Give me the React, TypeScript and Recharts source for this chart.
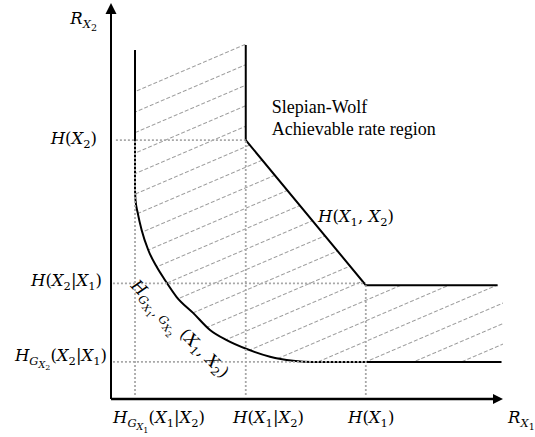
import { ComposedChart, XAxis, YAxis, Line, Area, ReferenceLine, ReferenceDot } from 'recharts';

// rate units (x: R_X1, y: R_X2)
const xMarks = [0.98, 5.5, 10.4]; // H_GX1(X1|X2), H(X1|X2), H(X1)
const yMarks = [1.5, 4.67, 10.46]; // H_GX2(X2|X1), H(X2|X1), H(X2)

// Slepian-Wolf boundary
const outerBoundary = [
    { x: 5.5, y: 14.3 },
    { x: 5.5, y: 10.46 },
    { x: 10.4, y: 4.6 },
    { x: 15.78, y: 4.6 },
];

// graph-entropy boundary
const innerEdge = [
    { x: 0.98, y: 14.1 },
    { x: 0.98, y: 8.44 },
];
const innerCurve = [
    { x: 0.98, y: 8.44 },
    { x: 1.0, y: 8.04 },
    { x: 1.09, y: 7.52 },
    { x: 1.25, y: 6.83 },
    { x: 1.52, y: 6.02 },
    { x: 1.87, y: 5.33 },
    { x: 2.2, y: 4.81 },
    { x: 2.68, y: 4.12 },
    { x: 3.36, y: 3.47 },
    { x: 4.04, y: 2.79 },
    { x: 4.72, y: 2.38 },
    { x: 5.54, y: 2.02 },
    { x: 6.49, y: 1.71 },
    { x: 7.43, y: 1.55 },
    { x: 8.2, y: 1.5 },
    { x: 15.94, y: 1.5 },
];

// hatched region between the two boundaries
const hatchRegion = [
    { x: 0.98, low: 8.44, high: 12.5 },
    { x: 1.0, low: 8.04, high: 12.51 },
    { x: 1.09, low: 7.52, high: 12.55 },
    { x: 1.25, low: 6.83, high: 12.62 },
    { x: 1.52, low: 6.02, high: 12.73 },
    { x: 1.87, low: 5.33, high: 12.88 },
    { x: 2.2, low: 4.81, high: 13.02 },
    { x: 2.68, low: 4.12, high: 13.23 },
    { x: 3.36, low: 3.47, high: 13.51 },
    { x: 4.04, low: 2.79, high: 13.8 },
    { x: 4.72, low: 2.38, high: 14.09 },
    { x: 5.5, low: 2.03, high: 14.42 },
    { x: 5.5, low: 2.03, high: 10.46 },
    { x: 6.49, low: 1.71, high: 9.28 },
    { x: 7.43, low: 1.55, high: 8.15 },
    { x: 8.2, low: 1.5, high: 7.23 },
    { x: 10.4, low: 1.5, high: 4.6 },
    { x: 16, low: 1.5, high: 4.6 },
];

type Run = [string, number]; // text, subscript level

const xTickText: Run[][] = [
    [['H', 0], ['G', 1], ['X', 2], ['1', 3], ['(X', 0], ['1', 1], ['|X', 0], ['2', 1], [')', 0]],
    [['H(X', 0], ['1', 1], ['|X', 0], ['2', 1], [')', 0]],
    [['H(X', 0], ['1', 1], [')', 0]],
];
const yTickText: Run[][] = [
    [['H', 0], ['G', 1], ['X', 2], ['2', 3], ['(X', 0], ['2', 1], ['|X', 0], ['1', 1], [')', 0]],
    [['H(X', 0], ['2', 1], ['|X', 0], ['1', 1], [')', 0]],
    [['H(X', 0], ['2', 1], [')', 0]],
];
const xTitle: Run[] = [['R', 0], ['X', 1], ['1', 2]];
const yTitle: Run[] = [['R', 0], ['X', 1], ['2', 2]];
const jointText: Run[] = [['H(X', 0], ['1', 1], [', X', 0], ['2', 1], [')', 0]];
const curveText: Run[] = [
    ['H', 0], ['G', 1], ['X', 2], ['1', 3], [', G', 1], ['X', 2], ['2', 3],
    [' (X', 0], ['1', 1], [', X', 0], ['2', 1], [')', 0],
];
const regionText = ['Slepian-Wolf', 'Achievable rate region'];

const xTickDx = [-22, -12.75, -17.8];
const yTickOffset = [
    { dx: -4, dy: -1 },
    { dx: -9, dy: 2.6 },
    { dx: -14, dy: 4 },
];

const SIZE = [16.5, 11.5, 9.5, 8];
const SHIFT = [0, 4, 7, 9.5];
const GRID = { stroke: '#a8a8a8', strokeWidth: 1.8, strokeDasharray: '2 2' };

const MathText = ({ x, y, runs, anchor = 'start', rotate = 0 }: any) => {
    let prev = 0;
    const spans: any[] = [];
    runs.forEach(([t, lvl]: Run, i: number) => {
        const parts = t.match(/[A-Za-z]+|[^A-Za-z]+/g) || [];
        parts.forEach((p, j) => {
            const dy = SHIFT[lvl] - SHIFT[prev];
            prev = lvl;
            spans.push(
                <tspan key={`${i}-${j}`} dy={dy} fontSize={SIZE[lvl]} fontStyle={/[A-Za-z]/.test(p) ? 'italic' : 'normal'}>
                    {p}
                </tspan>
            );
        });
    });
    return (
        <text
            x={x}
            y={y}
            textAnchor={anchor}
            fontFamily="'DejaVu Serif', serif"
            fill="#000"
            style={{ whiteSpace: 'pre' }}
            transform={rotate ? `rotate(${rotate} ${x} ${y})` : undefined}
        >
            {spans}
        </text>
    );
};

const label = (runs: Run[], dx: number, dy: number, anchor = 'start', rotate = 0) => (p: any) => (
    <MathText x={p.cx + dx} y={p.cy + dy} runs={runs} anchor={anchor} rotate={rotate} />
);

// axis arrowheads carry the axis titles
const upArrow = (p: any) => (
    <g>
        <polygon points={`${p.cx},${p.cy} ${p.cx - 5.5},${p.cy + 11} ${p.cx + 5.5},${p.cy + 11}`} fill="#000" />
        <MathText x={p.cx - 14} y={p.cy + 21} runs={yTitle} anchor="end" />
    </g>
);
const rightArrow = (p: any) => (
    <g>
        <polygon points={`${p.cx},${p.cy} ${p.cx - 10},${p.cy - 5} ${p.cx - 10},${p.cy + 5}`} fill="#000" />
        <MathText x={p.cx + 5} y={p.cy + 24} runs={xTitle} />
    </g>
);

export default function App() {
    return (
        <div style={{ position: 'absolute', left: 0, top: 0, width: 535, height: 437, background: '#fff' }}>
            <ComposedChart width={535} height={437} margin={{ top: 3, right: 32, bottom: 38, left: 111 }}>
                <defs>
                    <pattern id="hatch" patternUnits="userSpaceOnUse" width={24} height={18.85} patternTransform="rotate(-23.2)">
                        <line x1={0} y1={5.51} x2={24} y2={5.51} stroke="#9a9a9a" strokeWidth={1} strokeDasharray="4 2" />
                    </pattern>
                </defs>
                <XAxis type="number" dataKey="x" domain={[0, 16]} allowDataOverflow hide />
                <YAxis type="number" domain={[0, 16]} allowDataOverflow hide />

                <Area
                    data={hatchRegion}
                    dataKey={(d: any) => [d.low, d.high]}
                    type="linear"
                    stroke="none"
                    fill="url(#hatch)"
                    fillOpacity={1}
                    isAnimationActive={false}
                />

                <Line data={outerBoundary} dataKey="y" type="linear" stroke="#000" strokeWidth={2} dot={false} isAnimationActive={false} />
                <Line data={innerEdge} dataKey="y" type="linear" stroke="#000" strokeWidth={2} dot={false} isAnimationActive={false} />
                <Line data={innerCurve} dataKey="y" type="monotone" stroke="#000" strokeWidth={2} dot={false} isAnimationActive={false} />

                {/* dotted guide lines */}
                <ReferenceLine segment={[{ x: xMarks[0], y: 0.16 }, { x: xMarks[0], y: yMarks[2] }]} {...GRID} />
                <ReferenceLine segment={[{ x: xMarks[1], y: 0.16 }, { x: xMarks[1], y: yMarks[2] }]} {...GRID} />
                <ReferenceLine segment={[{ x: xMarks[2], y: 0.16 }, { x: xMarks[2], y: 4.6 }]} {...GRID} />
                <ReferenceLine segment={[{ x: 0.2, y: yMarks[2] }, { x: xMarks[1], y: yMarks[2] }]} {...GRID} />
                <ReferenceLine segment={[{ x: 0.08, y: yMarks[1] }, { x: xMarks[2], y: yMarks[1] }]} {...GRID} />
                <ReferenceLine segment={[{ x: 0.08, y: yMarks[0] }, { x: xMarks[2], y: yMarks[0] }]} {...GRID} />

                {/* axes */}
                <ReferenceLine segment={[{ x: 0, y: 0 }, { x: 0, y: 15.6 }]} stroke="#000" strokeWidth={2} />
                <ReferenceLine segment={[{ x: 0, y: 0 }, { x: 15.6, y: 0 }]} stroke="#000" strokeWidth={2.5} />
                <ReferenceDot x={0} y={16} r={0} shape={upArrow} />
                <ReferenceDot x={16} y={0} r={0} shape={rightArrow} />

                {xMarks.map((v, i) => (
                    <ReferenceDot key={`xt${i}`} x={v} y={0} r={0} shape={label(xTickText[i], xTickDx[i], 24)} />
                ))}
                {yMarks.map((v, i) => (
                    <ReferenceDot key={`yt${i}`} x={0} y={v} r={0} shape={label(yTickText[i], yTickOffset[i].dx, yTickOffset[i].dy, 'end')} />
                ))}
                <ReferenceDot x={8.27} y={7.15} r={0} shape={label(jointText, 4.4, 0)} />
                <ReferenceDot x={xMarks[0]} y={yMarks[1]} r={0} shape={label(curveText, -5, 3, 'start', 45)} />
                <ReferenceDot
                    x={xMarks[1]}
                    y={yMarks[2]}
                    r={0}
                    shape={(p: any) => (
                        <text x={p.cx + 26} y={p.cy - 27} fontFamily="'Liberation Serif', serif" fontSize={18} fill="#000">
                            <tspan x={p.cx + 26}>{regionText[0]}</tspan>
                            <tspan x={p.cx + 26} dy={22}>{regionText[1]}</tspan>
                        </text>
                    )}
                />
            </ComposedChart>
        </div>
    );
}
